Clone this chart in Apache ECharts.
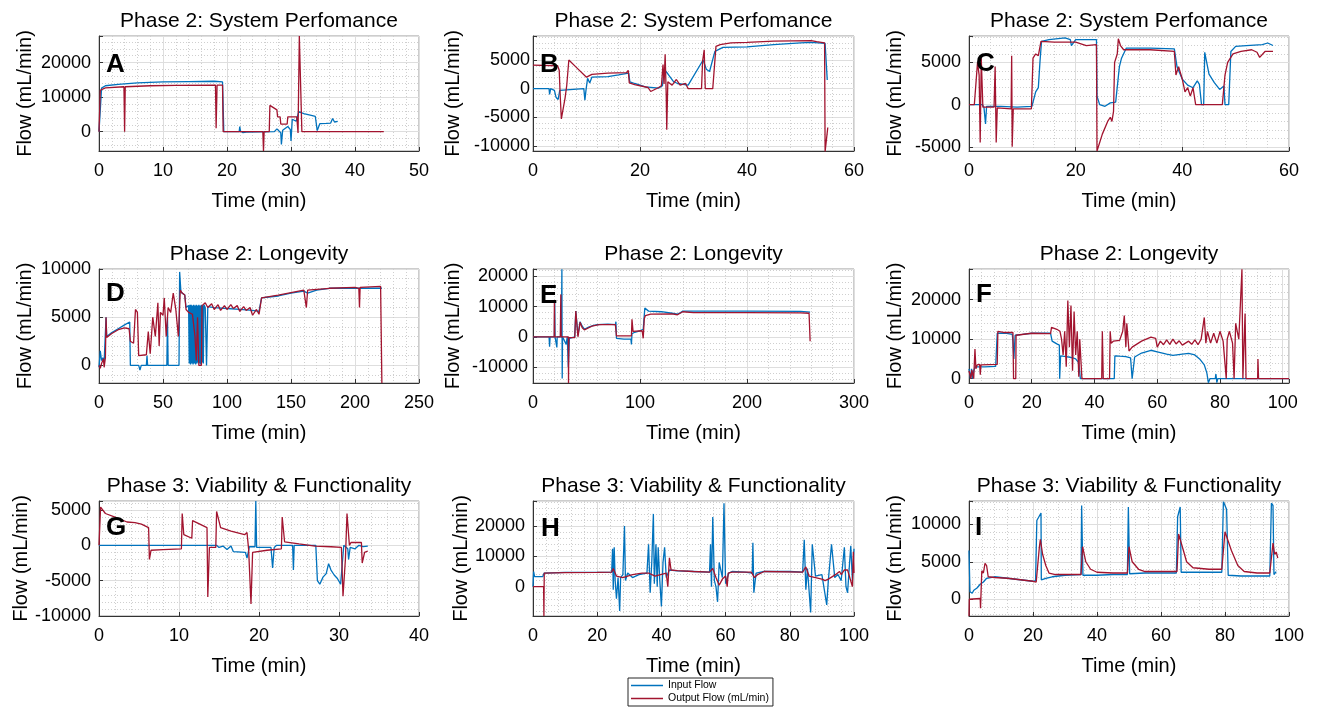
<!DOCTYPE html>
<html><head><meta charset="utf-8">
<script src="https://cdn.jsdelivr.net/npm/echarts@6/dist/echarts.min.js"></script>
<style>html,body{margin:0;padding:0;background:#fff}#c{width:1319px;height:712px}</style>
</head><body><div id="c"></div><script>
// ---------- DATA ----------
const letters = ['A','B','C','D','E','F','G','H','I'];
const titles = ['Phase 2: System Perfomance','Phase 2: System Perfomance','Phase 2: System Perfomance',
  'Phase 2: Longevity','Phase 2: Longevity','Phase 2: Longevity',
  'Phase 3: Viability & Functionality','Phase 3: Viability & Functionality','Phase 3: Viability & Functionality'];
const xLabel = 'Time (min)';
const yLabel = 'Flow (mL/min)';
const seriesNames = ['Input Flow','Output Flow (mL/min)'];
const xMax  = [50, 60, 60, 250, 300, 102, 40, 100, 100];
const xStep = [10, 20, 20, 50, 100, 20, 10, 20, 20];
const yMin  = [-5600, -10900, -5500, -1830, -15300, -1090, -10000, -9670, -2230];
const yMax  = [27700, 9200, 8130, 10000, 22450, 27770, 6270, 28250, 13100];
const yStep = [10000, 5000, 5000, 5000, 10000, 10000, 5000, 10000, 5000];

const inA = [[0,0],[0.3,0],[0.4,12600],[1,13300],[3,13700],[6,14100],[10,14400],[14,14500],[18,14600],[19.3,14400],[19.5,0],[21.9,0],[22,1500],[22.1,200],[22.5,-300],[23,-100],[27.4,0],[27.8,800],[28.4,-300],[28.5,-3700],[28.7,400],[29.5,1500],[29.9,600],[30,-2700],[30.2,3600],[30.8,3000],[31.2,5800],[32,5200],[33,4800],[33.8,4400],[34.1,300],[34.5,2300],[35.5,2400],[36.2,2500],[36.5,3800],[36.8,2800],[37.3,3000]];
const outA = [[0,0],[0.1,0],[0.2,12000],[1,12700],[3.9,13000],[4,0],[4.1,13000],[8,13300],[12,13400],[18.2,13500],[18.3,1000],[18.45,13500],[19.3,13500],[19.4,0],[25.6,0],[25.7,-5600],[25.8,0],[26.6,0],[26.7,7600],[27.8,6300],[27.9,4300],[28.3,4300],[28.4,2200],[29.4,2200],[29.5,4300],[30.9,4300],[31.1,-400],[31.3,27700],[31.6,27700],[31.7,0],[44.5,0]];

const inB = [[0,0],[3,0],[3.1,-1000],[3.3,0],[4,-300],[4.3,-1500],[4.7,-1900],[5,-300],[5.3,0],[9.5,0],[9.7,-2000],[9.9,-300],[10.2,1800],[10.6,1000],[11,2000],[14,2100],[16,2400],[17.9,2700],[18.1,1200],[19,900],[21,300],[23.5,100],[24.2,500],[24.5,3400],[25.2,2600],[26.2,1300],[27,900],[29,600],[31.8,5000],[32.4,3400],[33,3000],[34,6500],[35.5,7200],[40,7300],[45,7700],[50,8000],[52,8100],[54.6,7900],[55,1500]];
const outB = [[0,4100],[4.6,4000],[4.9,3200],[5.1,-1500],[5.3,-5300],[6,-1600],[6.3,500],[6.7,5000],[8,3800],[10,2000],[11,2500],[14,2700],[17.5,2800],[17.8,3200],[18,1000],[19,700],[21.5,200],[22,-500],[23.5,200],[24,500],[24.3,4200],[24.5,800],[24.7,6000],[24.9,-1000],[25,-7200],[25.2,1200],[26,600],[26.8,1600],[27.5,600],[28.5,900],[29,0],[31.5,0],[31.7,4800],[32,6800],[32.2,0],[33.6,0],[34.2,7400],[35,7700],[37,8000],[40,8100],[45,8300],[52,8400],[53,8200],[54.5,8000],[54.6,-11000],[55.1,-6800]];

const inC = [[0,0],[2.5,0],[2.8,-300],[3.1,-2300],[3.3,-200],[6,-200],[9,-300],[11.8,-200],[12.5,1500],[13,2000],[13.3,5000],[13.6,7500],[15,7700],[18,7900],[19,7700],[19.2,7000],[20,7700],[23.9,7700],[24,1000],[24.5,0],[25.5,-200],[26.5,200],[27.5,300],[28.2,4500],[28.6,5500],[29.5,6700],[34,6700],[38.5,6600],[39,4500],[40,3000],[41,2300],[42,2000],[42.8,2800],[43.2,2400],[43.6,0],[44,0],[44.2,6200],[45,3600],[46,2600],[47,1800],[47.8,2200],[48,0],[48.7,0],[49.1,6300],[50,6900],[52,7000],[55,7100],[56,7300],[57,7000]];
const outC = [[0,0],[1,0],[1.3,2500],[1.6,5000],[1.9,3500],[2.1,-4500],[2.3,5500],[2.6,-300],[4.7,-300],[4.9,4500],[5.1,-4500],[5.3,-400],[7.9,-500],[8,5800],[8.1,-5000],[8.3,-500],[11.7,-500],[12,5500],[12.5,6000],[13,5800],[13.5,7500],[16,7400],[20,7400],[21,7200],[22,7000],[23.9,7100],[24,-5500],[25,-3500],[26,-2000],[26.5,-1500],[26.8,-2000],[27.1,-800],[27.3,5000],[27.8,6000],[28,7800],[28.4,7000],[29,6500],[34,6500],[38.5,6300],[38.8,3500],[39.3,4500],[40,3000],[40.5,1500],[41,2000],[41.5,1000],[42,2000],[42.5,0],[47.5,0],[48,3500],[48.5,5000],[49.5,6000],[51,6300],[53,6500],[54,6200],[54.5,5600],[55.5,6300],[57,6300]];

const inD = [[0,-200],[1,1500],[2,500],[3,800],[4,300],[5,500],[5.5,5000],[6,3000],[10,3400],[15,3800],[20,4200],[24,4500],[24.5,0],[31,0],[32,-500],[33,0],[37,0],[37.5,1000],[38,0],[53,0],[53.5,5000],[54,0],[62.5,0],[63,9700],[64,7600],[67,7300],[68,6000],[70,6200],[70.5,200],[71,6300],[71.5,100],[72,6300],[72.5,200],[73,6200],[73.5,100],[74,6300],[74.5,200],[75,6200],[75.5,100],[76,6300],[76.5,200],[77,6200],[77.5,300],[78,6300],[78.5,200],[79,6200],[79.5,100],[80,6300],[80.5,300],[81,6200],[81.5,200],[82,6300],[83,6000],[84,0],[85,6100],[90,6000],[100,5900],[110,5800],[120,5700],[125,5600],[127,7000],[140,7200],[150,7500],[160,7700],[163,7500],[170,7800],[180,8000],[200,8000],[220,8000],[221,8000]];
const outD = [[0,0],[1,-300],[2,200],[3.5,700],[4,-200],[5,800],[5.5,5000],[6,2900],[10,3300],[15,3700],[20,3900],[23.5,3800],[24.5,2500],[27,2300],[28.5,5800],[30,5500],[31,1000],[37,1100],[38.5,3500],[40,1200],[42,5000],[44,3000],[46,6500],[47,2000],[48,5500],[50,5200],[51,7000],[52.5,3000],[54,6000],[56,5500],[58,7500],[60,5800],[61,6000],[62,3000],[63.5,7800],[65,7500],[67,7300],[68,5800],[70,5500],[73,5300],[75,3000],[76,500],[77,5000],[78,0],[80,0],[80.5,6200],[83,6500],[85,6000],[88,6400],[90,5800],[93,6300],[95,5700],[98,6200],[100,5800],[103,6300],[105,5900],[108,6200],[110,5600],[113,6100],[115,5700],[118,6000],[120,5200],[123,5800],[125,5300],[127,7000],[140,7300],[152,7600],[160,7800],[161.5,7700],[162,6000],[163,7800],[180,8000],[200,8100],[203,8000],[203.5,6000],[204,8100],[220,8200],[221,8200],[221,-1830]];

const inE = [[0,0],[15,0],[15.5,-3300],[16,0],[20,0],[20.3,12000],[20.6,0],[22,0],[22.3,-3500],[22.6,0],[26.5,0],[27,22400],[27.3,-13800],[27.6,0],[31,-2500],[32,0],[33,-10000],[34,-500],[39,0],[40,8500],[41,8300],[42,500],[43,0],[44,5000],[46,3500],[48,2500],[52,3200],[56,3700],[60,4000],[70,4200],[77,4000],[77.5,5000],[78,-500],[85,-800],[91.5,-800],[92,-2500],[92.5,1000],[95,1500],[100,2000],[103,2500],[104.5,9500],[108,8500],[120,8300],[130,7800],[135,7500],[138,8000],[140,8500],[200,8500],[250,8400],[259,8200]];
const outE = [[0,0],[19.8,0],[20,12000],[20.3,0],[25.5,0],[26,14000],[26.3,0],[33,0],[33.2,-15300],[33.5,-300],[39,-300],[40,8500],[41.5,8000],[42,0],[43.5,0],[44,4800],[46,3000],[48,2300],[55,3500],[62,4000],[77,4000],[78,300],[92,300],[92.5,5800],[93.5,1800],[102,2000],[103,-500],[104,6000],[105,7000],[110,7500],[130,7600],[135,7300],[140,8300],[150,8000],[200,8000],[250,7900],[258,7800],[259,-1500]];

const inF = [[0,2500],[0.5,0],[0.8,2500],[1.2,0],[1.5,2000],[2,3000],[5,3000],[8.5,3100],[9,11500],[12,11500],[13.8,11200],[14,9500],[14.3,5000],[14.7,11000],[17,11200],[20,11500],[20.5,12000],[21,11500],[26,11500],[26.5,9500],[28,8800],[28.8,8500],[28.9,0],[29.2,5800],[31,5600],[33,5300],[34,5000],[35,4000],[35.5,0],[46.3,0],[46.5,5800],[48,5700],[50,5600],[51.5,5300],[52,0],[52.4,0],[52.8,5500],[55,6500],[58,7200],[60,6800],[63,6200],[65,5900],[68,6200],[70,6400],[72,6000],[73.5,5000],[75,3500],[75.8,1500],[76.3,-1000],[76.8,0],[78.5,0],[78.7,1200],[79,-1000],[79.3,0],[102,0]];
const outF = [[0,2000],[0.6,0],[0.9,2200],[1.5,0],[1.9,7500],[2.2,2500],[2.6,3500],[3.4,3600],[3.6,1000],[3.8,3500],[9,3600],[9.2,12000],[11,11700],[14,11700],[14.2,0],[14.9,0],[15,11000],[20,11500],[26,11400],[26.3,13000],[28,12500],[29,12000],[29.5,10000],[30,6000],[30.5,12000],[31,3000],[31.5,19800],[32,8000],[32.5,18500],[33,2000],[33.5,17000],[34,6000],[34.5,12000],[35,500],[35.3,10000],[36,0],[42.3,0],[42.5,12000],[42.8,0],[44.8,0],[45,12000],[45.3,9000],[46,9500],[48,9700],[49,12000],[49.5,16000],[50,8000],[50.3,14000],[51,7000],[52,8000],[55,9500],[58,10500],[59.5,10200],[60,8000],[61,9500],[62,8600],[63,9800],[64,8700],[65,10000],[66,8800],[67,9600],[68,8500],[70,9500],[71,8700],[72,9800],[73,8600],[74,10000],[75,15500],[75.5,9000],[76,12000],[77,9000],[78,11500],[79,9000],[80,12000],[81,9500],[82,0],[82.3,10000],[83,12000],[84,9000],[84.5,0],[85,14000],[86,10000],[87,27700],[87.3,0],[88,16500],[88.3,0],[92,0],[92.1,5000],[92.3,0],[102,0]];

const inG = [[0,0],[14.7,0],[15,-300],[15.5,-100],[16,-600],[16.5,-100],[16.8,-900],[18.3,-1000],[18.5,-1800],[18.8,-200],[19.5,-200],[19.6,6270],[19.7,-300],[21.5,-300],[21.7,-3200],[21.9,-300],[22.2,0],[24.2,0],[24.3,-3500],[24.4,0],[27.1,0],[27.3,-5000],[27.6,-5500],[28,-4500],[28.4,-4000],[28.7,-2600],[29,-3500],[29.4,-4200],[29.8,-4700],[30.2,-5500],[30.4,-5700],[30.6,0],[31.1,-500],[31.2,-2000],[31.4,-300],[32,-500],[32.5,0],[33,-200],[33.6,-100]];
const outG = [[0,0],[0.1,0],[0.2,5400],[0.8,4500],[2,4000],[3.5,3300],[4.5,3200],[5.3,3000],[6.2,2500],[6.3,-2000],[6.5,-700],[8,-600],[10.3,-500],[10.4,4500],[10.6,1500],[11.6,1000],[11.7,3500],[13.5,2500],[13.6,-7300],[13.8,-300],[14.6,-300],[14.7,4800],[15.2,2500],[16.5,2000],[18.2,1500],[18.5,1800],[18.7,-500],[19,-8300],[19.2,-1000],[21,-700],[22.8,-500],[22.9,4000],[23.2,500],[25,200],[27,-100],[29,-200],[30.3,-300],[30.5,-7200],[30.8,-2000],[31,4500],[31.3,0],[31.5,400],[32.8,400],[32.9,-2500],[33.2,-1000],[33.6,-800]];

const inH = [[0,0],[0.2,5000],[0.5,3300],[3,3300],[3.5,4500],[10,4700],[20,4700],[24.5,4800],[24.8,12500],[25,-1000],[25.3,13000],[25.6,2000],[26,-4000],[26.5,3000],[27,-8000],[27.3,3000],[28,4000],[28.5,20000],[28.8,2000],[29.5,4500],[31,3000],[33,4000],[35.5,4500],[36,14000],[36.5,-2000],[37,8000],[37.5,24000],[37.8,1000],[38.3,14000],[38.7,0],[39,13000],[39.5,2000],[40,-6500],[40.5,8000],[41,13000],[41.5,3000],[42.5,5500],[45,5200],[50,5000],[55,4800],[55.3,14000],[55.6,0],[56,23000],[56.5,2000],[57,0],[57.5,-5000],[58,8000],[59,3000],[59.5,27500],[60,1000],[61,4500],[62,5000],[66,4800],[68.3,4500],[68.5,14500],[68.8,-2000],[69.5,4500],[72,5000],[80,5000],[84,4800],[84.5,15500],[85,-1000],[85.5,6000],[86.5,-8500],[87,14000],[88,3500],[90,4000],[91.5,-6000],[92,2000],[93,14000],[94,3000],[95,4000],[96,2000],[97,13000],[97.5,0],[98,-2000],[98.5,6000],[99,13500],[99.5,2000],[100,12500]];
const outH = [[0,0],[3.3,0],[3.4,-9670],[3.5,4500],[10,4600],[20,4700],[24.5,4800],[25,6000],[26,3500],[28,3000],[31,4000],[34,4500],[36,4500],[38,3500],[41.5,4500],[42,0],[42.5,9500],[43,5500],[45,5300],[50,5000],[55,4800],[56,6000],[57,3000],[58,500],[59,2500],[60,3500],[60.5,0],[60.8,4500],[62,4800],[68,4800],[69,3000],[70,4000],[72,5000],[84,4800],[85,6500],[86,3500],[88,3000],[90,2500],[91,2000],[92,2500],[94,3800],[95.5,5000],[96,4000],[97,5500],[98,5500],[99.5,0],[99.8,11500],[100,4500]];

const inI = [[0,6500],[0.3,1000],[1,800],[1.5,1200],[2.5,1500],[3.5,2000],[4.5,2300],[5.5,2800],[6,3000],[8,3000],[12,2800],[16,2600],[20,2400],[20.8,2500],[21.2,10500],[22.5,11500],[22.6,2600],[24,2800],[26,3000],[30,3200],[35,3300],[35.2,12500],[35.6,3200],[40,3200],[45,3300],[49.5,3300],[49.8,12300],[50.2,3400],[55,3500],[60,3500],[64.8,3500],[65.2,11000],[66,12300],[66.3,3600],[70,3600],[79,3600],[79.5,13000],[80.5,12000],[81,3200],[85,3100],[90,3100],[94,3100],[94.5,12800],[95,12500],[95.3,3300],[96,3700]];
const outI = [[0,-2230],[0.1,0],[0.3,100],[3.5,100],[3.6,-1200],[4,3800],[4.5,3500],[5,4800],[5.5,4500],[6,3000],[6.5,3200],[8,2900],[12,2800],[16,2600],[20,2400],[21,2300],[22,7000],[22.3,8000],[23,6000],[24,4500],[25,3500],[27,3300],[35,3300],[35.5,7000],[36.5,5000],[38,4000],[40,3600],[45,3500],[49.5,3500],[50,7000],[51,5000],[53,4000],[55,3700],[65,3700],[65.5,8700],[67,6500],[68,5000],[70,4200],[75,4000],[79,4000],[80,9000],[82,6500],[84,4500],[86,3700],[90,3500],[94,3500],[95,7500],[95.5,6000],[96,6300],[96.5,5500]];

const inputs  = [inA, inB, inC, inD, inE, inF, inG, inH, inI];
const outputs = [outA, outB, outC, outD, outE, outF, outG, outH, outI];

// ---------- LAYOUT ----------
const FONT = '"Liberation Sans", Arial, Helvetica, sans-serif';
const boxes = [[99,36,320,115],[533,36,321,115],[969,36,320,115],
               [99,269,320,114],[533,269,321,114],[969,269,320,114],
               [99,501,320,115],[533,501,321,115],[969,501,320,115]];
const titleY = [21, 21, 21, 254.5, 254.5, 254.5, 486, 486, 486];
const letterPos = [[106,65],[540,65],[976,64],[106,294],[540,296],[976,295],[106,528],[541,529],[975,528]];
const yNameGap = [64, 70, 64, 64, 70, 64, 66, 62, 64];
const yLabelMargin = [8, 3, 8, 8, 5, 8, 8, 8, 8];
const BLUE = '#0072BD', RED = '#A2142F';

function fmt(step){ return function(v){ const r = v/step; return Math.abs(r-Math.round(r))<1e-6 ? String(Math.round(v)) : ''; }; }

const grid=[], xAxis=[], yAxis=[], series=[], graphic=[];
for (let i=0;i<9;i++){
  const b = boxes[i];
  grid.push({left:b[0], top:b[1], width:b[2], height:b[3], show:true, borderColor:'#9a9a9a', borderWidth:1, backgroundColor:'#fff'});
  const common = {
    type:'value', gridIndex:i,
    axisLine:{show:true, onZero:false, lineStyle:{color:'#333', width:1}},
    axisTick:{show:true, inside:true, length:4, lineStyle:{color:'#333'}},
    splitLine:{show:true, lineStyle:{color:'#dedede', width:1}},
    minorTick:{show:false, splitNumber:5},
    minorSplitLine:{show:true, lineStyle:{color:'#cfcfcf', width:1, type:[1,2]}},
    nameLocation:'middle',
    nameTextStyle:{fontSize:20, color:'#000', fontFamily:FONT}
  };
  xAxis.push(Object.assign({}, common, {
    min:0, max:xMax[i], minInterval:xStep[i], maxInterval:xStep[i],
    name:xLabel, nameGap:40,
    axisLabel:{fontSize:18, color:'#000', fontFamily:FONT, margin:11, formatter:fmt(xStep[i])}
  }));
  yAxis.push(Object.assign({}, common, {
    min:yMin[i], max:yMax[i], minInterval:yStep[i], maxInterval:yStep[i],
    name:yLabel, nameGap:yNameGap[i], nameRotate:90,
    axisLabel:{fontSize:18, color:'#000', fontFamily:FONT, margin:yLabelMargin[i], formatter:fmt(yStep[i])}
  }));
  series.push({name:seriesNames[0], type:'line', xAxisIndex:i, yAxisIndex:i, data:inputs[i],
    showSymbol:false, symbol:'none', clip:true, color:BLUE, lineStyle:{color:BLUE, width:1.3}, z:2});
  series.push({name:seriesNames[1], type:'line', xAxisIndex:i, yAxisIndex:i, data:outputs[i],
    showSymbol:false, symbol:'none', clip:true, color:RED, lineStyle:{color:RED, width:1.3}, z:3});
  graphic.push({type:'text', x:b[0]+b[2]/2, y:titleY[i], z:10,
    style:{text:titles[i], font:'21px '+FONT, fill:'#000', align:'center', verticalAlign:'middle'}});
  graphic.push({type:'text', x:letterPos[i][0], y:letterPos[i][1], z:10,
    style:{text:letters[i], font:'bold 26px '+FONT, fill:'#000', align:'left', verticalAlign:'middle'}});
}

const chart = echarts.init(document.getElementById('c'), null, {renderer:'canvas'});
chart.setOption({
  backgroundColor:'#fff',
  animation:false,
  grid, xAxis, yAxis, series, graphic,
  legend:{data:seriesNames, orient:'vertical', left:628, top:678, icon:'rect', itemWidth:32, itemHeight:1.5,
    itemGap:2, padding:[2,4,2,3], borderColor:'#262626', borderWidth:1, backgroundColor:'#fff',
    textStyle:{fontSize:10.5, color:'#000', fontFamily:FONT}, selectedMode:false}
});
</script></body></html>
